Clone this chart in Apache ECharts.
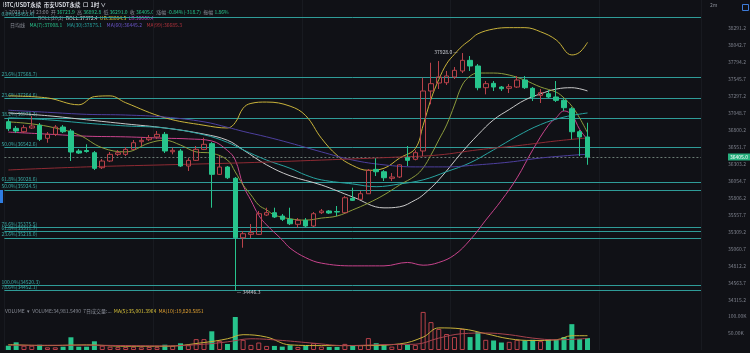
<!DOCTYPE html>
<html><head><meta charset="utf-8">
<script src="https://cdn.jsdelivr.net/npm/echarts@6/dist/echarts.min.js"></script>
<style>html,body{margin:0;padding:0;background:#101116;}#c{width:750px;height:353px;}</style>
</head><body><div id="c"></div>
<script>
// ---- data ----
// candles: [open, close, low, high]
const candles = [
[36922,36820,36786,36961],[36825,36786,36756,36859],[36775,36834,36756,36873],[36830,36859,36815,37005],
[36869,36664,36639,36903],[36679,36737,36614,36771],[36737,36844,36712,36873],[36844,36775,36756,36873],
[36786,36478,36346,36815],[36493,36463,36449,36522],[36500,36485,36468,36591],[36468,36239,36214,36493],
[36248,36346,36229,36375],[36346,36444,36331,36478],[36444,36468,36419,36507],[36444,36517,36419,36551],
[36517,36614,36507,36654],[36629,36649,36566,36698],[36658,36687,36639,36727],[36698,36737,36668,36786],
[36737,36493,36463,36771],[36482,36503,36444,36541],[36493,36273,36258,36522],[36273,36356,36200,36390],
[36356,36517,36346,36566],[36517,36591,36507,36687],[36600,36151,35662,36624],[36151,36258,36141,36419],
[36258,36101,36082,36273],[36093,35222,34446.3,36112],[35222,35281,35076,35320],[35272,35296,35218,35423],
[35272,35574,35262,35614],[35555,35589,35540,35662],[35589,35526,35511,35662],[35540,35492,35467,35570],
[35492,35427,35408,35662],[35419,35477,35369,35511],[35477,35394,35379,35511],[35394,35574,35379,35599],
[35589,35614,35570,35643],[35614,35584,35570,35628],[35606,35599,35540,35687],[35589,35808,35584,35833],
[35799,35770,35760,35955],[35785,35867,35775,35907],[35867,36210,35863,36229],[36224,36189,36126,36386],
[36189,36101,36053,36214],[36093,36112,36053,36170],[36112,36290,36097,36300],[36394,36356,36273,36566],
[36371,36468,36356,36503],[36493,37372,36419,37567],[37372,37479,37177,37786],[37489,37577,37401,37811],
[37493,37592,37460,37665],[37577,37675,37547,37723],[37665,37821,37635,37928],[37821,37738,37665,37884],
[37738,37420,37382,37767],[37420,37479,37323,37518],[37484,37430,37372,37518],[37430,37405,37372,37445],
[37411,37435,37342,37474],[37430,37533,37416,37591],[37533,37420,37401,37591],[37411,37284,37225,37430],
[37308,37347,37196,37401],[37332,37284,37269,37386],[37284,37235,37211,37518],[37235,37127,37079,37254],
[37112,36775,36664,37137],[36775,36698,36419,36800],[36698,36405,36291,36907]
];
const volumes = [12600,22600,12600,12600,15600,7900,7900,9700,37400,9700,9700,25600,12600,9700,8500,9000,
9500,8000,9000,8500,15600,12600,19700,14000,32000,32000,55000,27000,17600,97000,30000,15000,
22000,12000,12000,10000,14000,9000,12000,20000,10000,9000,9000,18000,12000,14000,35000,20000,
14000,10000,18000,16000,15000,112000,82000,62000,47000,38000,62000,38000,53000,30000,28000,22000,
24000,30000,28000,30000,26000,32000,30000,38000,76000,32000,34981];
// indicator lines: [candle index, price]
const bollUB = [[0,37300],[5,37270],[9,37170],[11,37290],[13,37300],[15,37200],[20,36980],[25,36870],[28,36830],
[29,36910],[30,37120],[31,37190],[33,37210],[36,37150],[38,37010],[40,36680],[42,36430],[44,36280],[46,36210],
[48,36240],[50,36390],[52,36530],[53,36870],[54,37250],[55,37540],[56,37770],[57,37910],[58,38030],[59,38120],
[60,38210],[62,38280],[64,38300],[66,38300],[68,38240],[70,38120],[72,37900],[73,37940],[74,38084.5]];
const bollMid = [[0,37050],[5,37010],[10,36950],[15,36890],[20,36830],[25,36740],[28,36650],[30,36510],[33,36290],
[36,36130],[40,35995],[44,35820],[48,35660],[50,35675],[52,35775],[53,35850],[55,36070],[58,36480],[60,36730],
[62,36950],[64,37100],[66,37240],[68,37330],[70,37400],[72,37420],[74,37372.4]];
const bollLB = [[0,36770],[5,36740],[10,36710],[15,36700],[20,36680],[23,36670],[26,36640],[28,36500],[29,36360],
[30,35990],[31,35770],[32,35550],[33,35410],[35,35190],[36,35070],[38,34930],[40,34850],[44,34810],[48,34810],
[51,34860],[53,34820],[55,34860],[57,34970],[59,35190],[61,35480],[63,35770],[65,36100],[67,36510],[69,36870],
[70,36980],[71,37080],[72,37020],[73,36810],[74,36660.4]];
const maTeal = [[0,36980],[5,36950],[10,36900],[15,36860],[20,36830],[25,36730],[28,36620],[30,36510],[33,36360],
[36,36240],[38,36140],[40,36070],[44,36010],[47,35970],[50,36010],[53,36070],[56,36190],[59,36320],[62,36510],
[65,36710],[68,36880],[71,36990],[74,37050]];
const maPurple = [[0,37090],[5,37060],[10,37030],[15,37020],[20,36990],[25,36920],[28,36840],[30,36780],
[33,36700],[36,36610],[40,36480],[44,36360],[48,36290],[52,36260],[56,36260],[60,36290],[64,36330],
[68,36390],[72,36430],[74,36445]];
const maRed = [[0,36215],[10,36260],[20,36290],[30,36320],[40,36360],[50,36405],[55,36435],[60,36510],
[65,36570],[70,36640],[74,36685]];
const ma7 = [[0,36920],[3,36890],[6,36830],[9,36730],[12,36540],[15,36480],[18,36610],[20,36650],[22,36580],
[24,36480],[26,36460],[28,36360],[29,36185],[30,35995],[31,35850],[32,35700],[33,35630],[34,35555],[36,35500],
[38,35480],[40,35510],[42,35540],[44,35630],[46,35730],[48,35850],[50,35995],[52,36130],[53,36245],[54,36435],
[55,36655],[56,36875],[57,37165],[58,37460],[59,37590],[60,37635],[62,37635],[64,37605],[66,37530],[68,37430],
[70,37355],[71,37270],[72,37150],[73,36975],[74,36760]];
const volMA5 = [[0,16000],[5,13000],[10,15000],[15,11000],[20,11000],[25,22000],[28,33000],[30,45000],[33,38000],
[36,15000],[40,13000],[45,13000],[50,18000],[53,38000],[55,65000],[58,62000],[61,48000],[64,33000],[67,28000],
[70,30000],[72,42000],[74,42000]];
const volMA10 = [[0,14000],[5,14000],[10,14000],[15,13000],[20,12000],[25,17000],[28,24000],[31,33000],[35,28000],
[39,20000],[43,13000],[48,16000],[52,17000],[55,35000],[58,48000],[61,50000],[64,45000],[67,35000],[70,30000],
[74,34000]];
const fibs = [['0.0%',38451.4],['23.6%',37568.7],['23.6%',37264.6],['38.2%',36978.3],['50.0%',36542.6],
['61.8%',36028.6],['50.0%',35924.5],['78.6%',35375.5],['61.8%',35311.7],['23.6%',35218.0],
['100.0%',34520.3],['78.6%',34452.1]];
const priceTicks = ['38291.2','38042.7','37794.2','37545.7','37297.2','37048.7','36800.2','36551.7','36303.2',
'36054.7','35806.2','35557.7','35309.2','35060.7','34812.2','34563.7','34315.2'];
const volTicks = ['100.00K','50.00K'];
const lastPrice = 36405.0, lastVol = '34.9K';
const highMark = [58, 37928.0], lowMark = [29, 34446.3];

// ---- layout ----
const SLOTS = 89;
const PRICE_TOP = 38705, PX = 14.65;     // price at y=0, price per px
const step = (+priceTicks[0]) - (+priceTicks[1]);
const yMin = (+priceTicks[priceTicks.length-1]) - step;
const mainH = (PRICE_TOP - yMin) / PX;
const cats = [];
const t0 = Date.UTC(2023,10,14,23) - 74*3600e3;
for (let i=0;i<SLOTS;i++){ const d=new Date(t0+i*3600e3); cats.push((d.getUTCMonth()+1)+'/'+d.getUTCDate()+' '+String(d.getUTCHours()).padStart(2,'0')+':00'); }

const UP='#b9424a', DOWN='#27c48c', BG='#101116';
const FONT='"Noto Sans CJK SC","Noto Sans",sans-serif';
const volData = volumes.map((v,i)=>{ const c=candles[i]; const up=c[1]>=c[0];
  return {value:v,itemStyle:up?{color:'rgba(0,0,0,0)',borderColor:UP,borderWidth:1}:{color:DOWN}}; });

const lineS = (name,data,color,xi,yi)=>({name,type:'line',data,xAxisIndex:xi||0,yAxisIndex:yi||0,smooth:0.4,symbol:'none',
  lineStyle:{color,width:1},silent:true,z:3});
const txt = (left,top,text,rich)=>({type:'text',left,top,style:{text,rich,font:'5px '+FONT,fill:'#8a8e98'}});
const R = c=>({fill:c,font:'5px '+FONT});

const chart = echarts.init(document.getElementById('c'));
chart.setOption({
  backgroundColor: BG, animation:false,
  grid:[{left:4.4,right:49,top:0,height:mainH},{left:4.4,right:49,top:305,bottom:3}],
  xAxis:[{type:'category',data:cats,gridIndex:0,boundaryGap:true,axisLine:{show:false},axisTick:{show:false},axisLabel:{show:false},
          splitLine:{show:true,interval:18,lineStyle:{color:'#181a20'}}},
         {type:'category',data:cats,gridIndex:1,boundaryGap:true,axisLine:{show:false},axisTick:{show:false},axisLabel:{show:false},
          splitLine:{show:true,interval:18,lineStyle:{color:'#181a20'}}}],
  yAxis:[{type:'value',gridIndex:0,position:'right',min:yMin,max:PRICE_TOP,interval:step,scale:true,
          axisLine:{show:false},axisTick:{show:false},splitLine:{show:false},
          axisLabel:{color:'#7d818c',fontSize:5,fontFamily:FONT,margin:27,showMinLabel:false,showMaxLabel:false,
            formatter:v=>{const s=priceTicks.find(t=>Math.abs(+t-v)<0.5);return s||'';}}},
         {type:'value',gridIndex:1,position:'right',min:0,max:50000*45/17,interval:50000,
          axisLine:{show:false},axisTick:{show:false},splitLine:{show:false},
          axisLabel:{color:'#7d818c',fontSize:5,fontFamily:FONT,margin:27,
            formatter:v=>v===100000?volTicks[0]:(v===50000?volTicks[1]:'')}}],
  series:[
    {type:'candlestick',data:candles,barWidth:5,z:5,silent:true,
     itemStyle:{color:'rgba(0,0,0,0)',color0:DOWN,borderColor:UP,borderColor0:DOWN,borderWidth:1},
     markLine:{silent:true,symbol:['none','none'],z:2,
       data:[...fibs.map(f=>({yAxis:f[1],lineStyle:{color:'#2f9c98',width:1,type:'solid'},
               label:{show:true,position:'insideStartTop',distance:[-3,1],formatter:f[0]+'('+f[1].toFixed(1)+')',color:'#3aa9a4',fontSize:5,fontFamily:FONT}})),
             {yAxis:lastPrice,lineStyle:{color:'#6b7b74',width:1,type:[2,2]},
               label:{show:true,position:'end',distance:27,formatter:lastPrice.toFixed(1),color:'#fff',backgroundColor:'#27b07e',padding:[1,2],fontSize:5,fontFamily:FONT}}]},
     markPoint:{silent:true,symbol:'circle',symbolSize:1,itemStyle:{color:'rgba(0,0,0,0)'},data:[
       {coord:highMark,value:highMark[1],label:{show:true,position:'left',distance:2,offset:[-2,-1],formatter:highMark[1].toFixed(1)+' —',color:'#c9ccd3',fontSize:5,fontFamily:FONT}},
       {coord:lowMark,value:lowMark[1],label:{show:true,position:'right',distance:1,offset:[0,1],formatter:'— '+lowMark[1].toFixed(1),color:'#c9ccd3',fontSize:5,fontFamily:FONT}}]}},
    lineS('UB',bollUB,'#c8b23a'),
    lineS('BOLL',bollMid,'#c9c9c9'),
    lineS('LB',bollLB,'#c8438c'),
    lineS('MA7',ma7,'#8c9b3c'),
    lineS('MAteal',maTeal,'#27a3a0'),
    lineS('MApurple',maPurple,'#4d3f9e'),
    lineS('MAred',maRed,'#8e2a33'),
    {type:'bar',data:volData,xAxisIndex:1,yAxisIndex:1,barWidth:5,silent:true,
     markLine:{silent:true,symbol:['none','none'],data:[{yAxis:34981,lineStyle:{opacity:0},label:{show:true,position:'end',distance:27,formatter:lastVol,color:'#fff',backgroundColor:'#d88a1d',padding:[1,3],fontSize:5}}]}},
    lineS('VMA5',volMA5,'#c8b23a',1,1),
    lineS('VMA10',volMA10,'#a8434d',1,1)
  ],
  graphic:[
    {type:'text',left:3,top:2,style:{text:'BTC/USDT永续  币安USDT永续  ☐  1时 ∨',fill:'#d8dbe2',font:'bold 5.5px '+FONT}},
    txt(3,10,'⊙ 2023-11-14 23:00  开 {g|36723.9}  高 {g|36892.8}  低 {g|36291.0}  收 {g|36405.0}  涨幅 {g|-0.84%(-318.7)}  振幅 {g|1.86%}',{g:R('#27c48c')}),
    txt(38,16,'BOLL(20,2)  {w|BOLL:37372.4}  {y|UB:38084.5}  {p|LB:36660.4}',{w:R('#d0d0d0'),y:R('#d8c23a'),p:R('#b548c0')}),
    txt(10,23,'日均线    {g|MA(7):37008.1}    {t|MA(30):37875.1}    {p|MA(60):36445.2}    {r|MA(99):36685.3}',{g:R('#27c48c'),t:R('#27a3a0'),p:R('#6a55c8'),r:R('#b0323c')}),
    txt(5,309,'VOLUME  ▾  VOLUME:34,981.5490  7日成交量:...  {y|MA(5):35,001.3964}  {o|MA(10):19,820.5851}',{y:R('#d8c23a'),o:R('#e0a030')}),
    {type:'text',left:710,top:3,style:{text:'2m',fill:'#8a8e98',font:'5px '+FONT}},
    {type:'rect',left:740,top:2,shape:{width:6,height:6},style:{fill:'none',stroke:'#3d7bd9',lineWidth:1}},
    {type:'rect',left:0,top:190,shape:{width:3,height:13},style:{fill:'#2f7de1'}}
  ]
});
</script></body></html>
